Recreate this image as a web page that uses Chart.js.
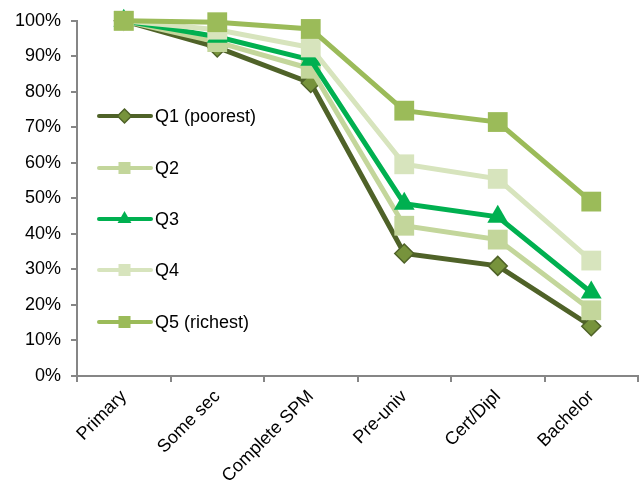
<!DOCTYPE html>
<html>
<head>
<meta charset="utf-8">
<script src="https://cdn.jsdelivr.net/npm/chart.js@4.4.1/dist/chart.umd.min.js"></script>
<style>
  html, body { margin: 0; padding: 0; background: #fff; }
  #wrap { width: 641px; height: 485px; position: relative; }
</style>
</head>
<body>
<div id="wrap"><canvas id="chart"></canvas></div>
<script>
// Share of each wealth quintile still enrolled at each education level
const levels = ['Primary', 'Some sec', 'Complete SPM', 'Pre-univ', 'Cert/Dipl', 'Bachelor'];
const q1 = [100, 92.5, 82.5, 34.5, 31.0, 14.0];
const q2 = [100, 94.0, 86.5, 42.3, 38.4, 18.5];
const q3 = [100, 95.5, 89.0, 48.5, 44.8, 23.5];
const q4 = [100, 97.5, 92.5, 59.6, 55.5, 32.5];
const q5 = [100, 99.6, 97.7, 74.7, 71.5, 49.1];
const seriesNames = ['Q1 (poorest)', 'Q2', 'Q3', 'Q4', 'Q5 (richest)'];
const yTicks = [0, 10, 20, 30, 40, 50, 60, 70, 80, 90, 100];

const FONT = 'Arial, "Liberation Sans", sans-serif';
const AXIS = '#868686';

function makeSet(label, data, color, style, radius, fill, order) {
    return {
        label: label,
        data: data,
        borderColor: color,
        backgroundColor: fill || color,
        borderWidth: 5,
        pointStyle: style,
        pointRadius: radius,
        pointHoverRadius: radius,
        pointBackgroundColor: fill || color,
        pointBorderColor: style === 'rectRot' ? color : (fill || color),
        pointBorderWidth: style === 'rectRot' ? 1.5 : 0,
        tension: 0,
        clip: false,
        order: order
    };
}

// legend drawn inside the plot, at the left
const insideLegend = {
    id: 'insideLegend',
    afterDraw(chart) {
        const ctx = chart.ctx;
        const ys = [116, 168, 219, 270, 322];
        const sizes = [7, 8.5, 8, 8.5, 8.5];
        chart.data.datasets.forEach((ds, i) => {
            const y = ys[i];
            ctx.save();
            ctx.strokeStyle = ds.borderColor;
            ctx.lineWidth = 4;
            ctx.lineCap = 'round';
            ctx.beginPath();
            ctx.moveTo(99, y);
            ctx.lineTo(151, y);
            ctx.stroke();
            ctx.fillStyle = ds.pointBackgroundColor;
            ctx.strokeStyle = ds.pointBorderColor;
            ctx.lineWidth = ds.pointBorderWidth;
            Chart.helpers.drawPoint(ctx, {
                pointStyle: ds.pointStyle,
                radius: sizes[i],
                borderWidth: ds.pointBorderWidth
            }, 124.5, y);
            ctx.fillStyle = '#000';
            ctx.font = '18px ' + FONT;
            ctx.textBaseline = 'middle';
            ctx.textAlign = 'left';
            ctx.fillText(ds.label, 155, y + 1);
            ctx.restore();
        });
    }
};

new Chart(document.getElementById('chart'), {
    type: 'line',
    data: {
        labels: levels,
        datasets: [
            makeSet(seriesNames[0], q1, '#4F6228', 'rectRot', 9.5, '#77933C', 4),
            makeSet(seriesNames[1], q2, '#C3D69B', 'rect', 14, null, 3),
            makeSet(seriesNames[2], q3, '#00B050', 'triangle', 12, null, 2),
            makeSet(seriesNames[3], q4, '#D7E4BD', 'rect', 14, null, 1),
            makeSet(seriesNames[4], q5, '#9BBB59', 'rect', 14, null, 0)
        ]
    },
    options: {
        responsive: true,
        maintainAspectRatio: false,
        animation: false,
        layout: {
            autoPadding: false,
            padding: { top: 19, right: 3, left: 0, bottom: 0 }
        },
        plugins: {
            legend: { display: false },
            tooltip: { enabled: false }
        },
        scales: {
            x: {
                offset: true,
                grid: {
                    offset: true,
                    drawOnChartArea: false,
                    color: AXIS,
                    lineWidth: 2,
                    tickLength: 6
                },
                border: { color: AXIS, width: 2 },
                ticks: {
                    color: '#000',
                    font: { family: FONT, size: 18 },
                    maxRotation: 45,
                    minRotation: 45,
                    padding: 4
                },
                afterFit(scale) {
                    scale.height = 109;
                    scale.paddingLeft = 0;
                    scale.paddingRight = 0;
                }
            },
            y: {
                min: 0,
                max: 100,
                afterBuildTicks(scale) {
                    scale.ticks = yTicks.map(v => ({ value: v }));
                },
                grid: {
                    drawOnChartArea: false,
                    color: AXIS,
                    lineWidth: 2,
                    tickLength: 6
                },
                border: { color: AXIS, width: 2 },
                ticks: {
                    color: '#000',
                    font: { family: FONT, size: 18 },
                    padding: 10,
                    callback: v => v + '%'
                },
                afterFit(scale) { scale.width = 77; }
            }
        }
    },
    plugins: [insideLegend]
});
</script>
</body>
</html>
